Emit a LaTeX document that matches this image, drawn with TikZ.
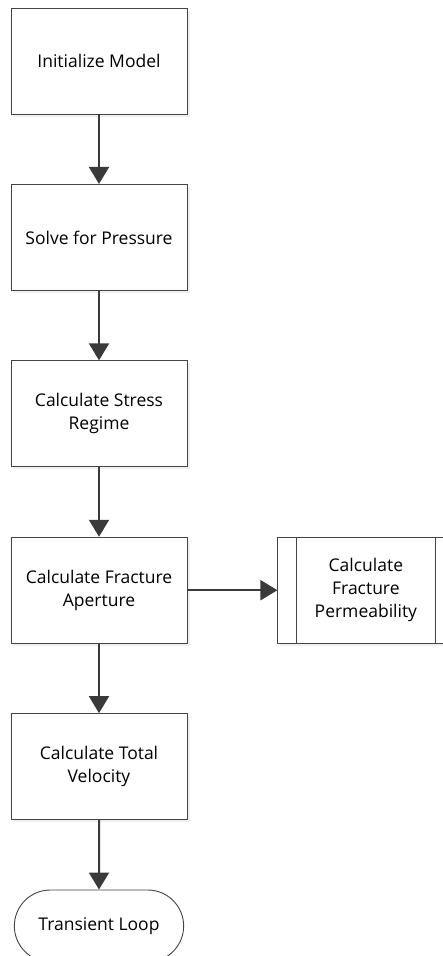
\documentclass[tikz,border=0pt]{standalone}
\usepackage{fontspec}
\setmainfont{Open Sans}
\usepackage{xcolor}
\usetikzlibrary{arrows.meta, positioning, shapes.misc, calc, shadows}

\definecolor{edgegray}{HTML}{444444}
\definecolor{arrowgray}{HTML}{3A3A3A}

\begin{document}
\begin{tikzpicture}[
    x=1pt, y=-1pt,
    node distance=69.5pt and 90pt,
    stepbox/.style={draw=edgegray, fill=white, rectangle, minimum width=176pt, minimum height=106pt, align=center, inner sep=2pt, line width=0.9pt, font=\fontsize{17.5}{23}\selectfont, drop shadow={opacity=0.12, shadow xshift=2.5pt, shadow yshift=-2.5pt}},
    procbox/.style={stepbox},
    endbox/.style={draw=edgegray, fill=white, rounded rectangle, minimum width=176pt, minimum height=72pt, align=center, line width=0.9pt, font=\fontsize{17.5}{23}\selectfont},
    line/.style={draw=arrowgray, line width=2pt, -{Triangle[width=20pt, length=17pt]}}
]
    \useasboundingbox (0,0) rectangle (442,956);

    \node[stepbox] (init) at (99,61) {Initialize Model};
    \node[stepbox, below=of init] (pressure) {Solve for Pressure};
    \node[stepbox, below=of pressure] (stress) {Calculate Stress\\Regime};
    \node[stepbox, below=of stress] (aperture) {Calculate Fracture\\Aperture};
    \node[procbox, right=of aperture] (perm) {Calculate\\Fracture\\Permeability};
    \node[stepbox, below=of aperture] (velocity) {Calculate Total\\Velocity};
    \node[endbox, below=of velocity] (loop) {Transient Loop};

    % inner bars of the predefined process
    \draw[edgegray, line width=0.9pt] ($(perm.north west)+(19pt,0)$) -- ($(perm.south west)+(19pt,0)$);
    \draw[edgegray, line width=0.9pt] ($(perm.north east)+(-19pt,0)$) -- ($(perm.south east)+(-19pt,0)$);

    \draw[line] (init) -- (pressure);
    \draw[line] (pressure) -- (stress);
    \draw[line] (stress) -- (aperture);
    \draw[line] (aperture) -- (perm);
    \draw[line] (aperture) -- (velocity);
    \draw[line] (velocity) -- (loop);
\end{tikzpicture}
\end{document}
